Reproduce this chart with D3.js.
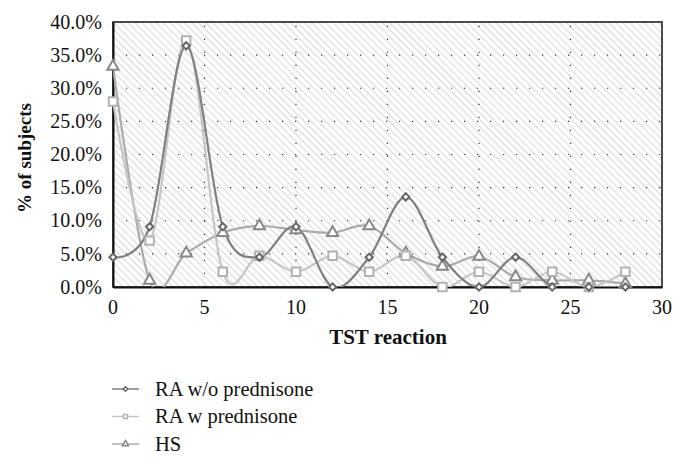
<!DOCTYPE html>
<html>
<head>
<meta charset="utf-8">
<script src="https://cdn.jsdelivr.net/npm/d3@7"></script>
</head>
<body style="margin:0">
<script>
var tst = [0, 2, 4, 6, 8, 10, 12, 14, 16, 18, 20, 22, 24, 26, 28];
var raNoPred = [4.5, 9.1, 36.4, 9.1, 4.5, 9.1, 0, 4.5, 13.6, 4.5, 0, 4.5, 0, 0, 0];
var raPred = [28.0, 7.0, 37.2, 2.3, 4.7, 2.3, 4.7, 2.3, 4.7, 0, 2.3, 0, 2.3, 0, 2.3];
var hs = [33.3, 1.0, 5.1, 8.2, 9.2, 8.6, 8.2, 9.2, 5.1, 3.1, 4.6, 1.5, 1.0, 1.0, 0.5];
var seriesNames = ["RA w/o prednisone", "RA w prednisone", "HS"];
var xTicks = [0, 5, 10, 15, 20, 25, 30];
var yTicks = [0, 5, 10, 15, 20, 25, 30, 35, 40];

var FONT = 'Liberation Serif';
var width = 684, height = 464;
var m = {left: 113, right: 22, top: 22, bottom: 177};

var svg = d3.select('body').append('svg')
    .attr('width', width)
    .attr('height', height);

var x = d3.scaleLinear().domain([0, 30]).range([m.left, width - m.right]);
var y = d3.scaleLinear().domain([0, 40]).range([height - m.bottom, m.top]);

var defs = svg.append('defs');
var pat = defs.append('pattern')
    .attr('id', 'hatch')
    .attr('patternUnits', 'userSpaceOnUse')
    .attr('width', 5).attr('height', 5)
    .attr('patternTransform', 'rotate(45)');
pat.append('rect').attr('width', 5).attr('height', 5).attr('fill', '#fff');
pat.append('line')
    .attr('x1', 0).attr('y1', 0).attr('x2', 5).attr('y2', 0)
    .attr('stroke', '#dcdcdc').attr('stroke-width', 2.4);

defs.append('clipPath').attr('id', 'clip')
  .append('rect')
    .attr('x', x(0)).attr('y', y(40))
    .attr('width', x(30) - x(0)).attr('height', y(0) - y(40));

// plot background
svg.append('rect')
    .attr('x', x(0)).attr('y', y(40))
    .attr('width', x(30) - x(0)).attr('height', y(0) - y(40))
    .attr('fill', 'url(#hatch)');

// dotted gridlines
var grid = svg.append('g');
grid.selectAll('line.h')
    .data(yTicks.filter(function(d) { return d > 0 && d < 40; }))
    .enter().append('line')
    .attr('class', 'h')
    .attr('x1', x(0)).attr('x2', x(30))
    .attr('y1', function(d) { return y(d); })
    .attr('y2', function(d) { return y(d); })
    .attr('stroke', '#333').attr('stroke-width', 1.2)
    .attr('stroke-dasharray', '1.2,11.8');
grid.selectAll('line.v')
    .data(xTicks.filter(function(d) { return d > 0 && d < 30; }))
    .enter().append('line')
    .attr('class', 'v')
    .attr('y1', y(0)).attr('y2', y(40))
    .attr('x1', function(d) { return x(d); })
    .attr('x2', function(d) { return x(d); })
    .attr('stroke', '#333').attr('stroke-width', 1.2)
    .attr('stroke-dasharray', '1.2,11.8');

// frame
svg.append('rect')
    .attr('x', x(0)).attr('y', y(40))
    .attr('width', x(30) - x(0)).attr('height', y(0) - y(40))
    .attr('fill', 'none').attr('stroke', '#222').attr('stroke-width', 1.6);

// axes lines from d3, labels as plain texts placed by the scales
var yAxis = svg.append('g')
    .attr('transform', 'translate(' + x(0) + ',0)')
    .call(d3.axisLeft(y).tickValues(yTicks).tickSize(0).tickFormat(''));
var xAxis = svg.append('g')
    .attr('transform', 'translate(0,' + y(0) + ')')
    .call(d3.axisBottom(x).tickValues(xTicks).tickSize(0).tickFormat(''));
[xAxis, yAxis].forEach(function(a) {
  a.select('.domain').attr('stroke', '#111').attr('stroke-width', 2);
});

svg.append('g').selectAll('text')
    .data(yTicks)
    .enter().append('text')
    .attr('x', x(0) - 11)
    .attr('y', function(d) { return y(d) + 6.7; })
    .attr('text-anchor', 'end')
    .style('font-family', FONT)
    .attr('font-size', 20)
    .attr('fill', '#111')
    .text(function(d) { return d.toFixed(1) + '%'; });
svg.append('g').selectAll('text')
    .data(xTicks)
    .enter().append('text')
    .attr('x', function(d) { return x(d); })
    .attr('y', y(0) + 27)
    .attr('text-anchor', 'middle')
    .style('font-family', FONT)
    .attr('font-size', 20)
    .attr('fill', '#111')
    .text(function(d) { return d; });

svg.append('text')
    .attr('x', 388).attr('y', 344)
    .attr('text-anchor', 'middle')
    .style('font-family', FONT)
    .attr('font-size', 21).attr('font-weight', 'bold').attr('fill', '#111')
    .text('TST reaction');
svg.append('text')
    .attr('transform', 'translate(31,158) rotate(-90)')
    .attr('text-anchor', 'middle')
    .style('font-family', FONT)
    .attr('font-size', 19).attr('font-weight', 'bold').attr('fill', '#111')
    .text('% of subjects');

// diamond drawn as a rotated square so it is as wide as tall
var diamond = {
  draw: function(ctx, size) {
    var r = Math.sqrt(size) / 2 * 1.15;
    ctx.moveTo(0, -r); ctx.lineTo(r, 0); ctx.lineTo(0, r); ctx.lineTo(-r, 0); ctx.closePath();
  }
};

var styles = [
  {vals: raNoPred, line: '#808080', mark: '#666', shape: diamond, size: 40},
  {vals: raPred, line: '#c6c6c6', mark: '#b2b2b2', shape: d3.symbolSquare, size: 72},
  {vals: hs, line: '#ababab', mark: '#888', shape: d3.symbolTriangle, size: 55}
];

var line = d3.line()
    .x(function(d) { return x(d[0]); })
    .y(function(d) { return y(d[1]); })
    .curve(d3.curveCardinal.tension(0));

var plot = svg.append('g').attr('clip-path', 'url(#clip)');
var order = [2, 1, 0];
order.forEach(function(i) {
  var s = styles[i];
  var pts = tst.map(function(t, j) { return [t, s.vals[j]]; });
  plot.append('path')
      .datum(pts)
      .attr('d', line)
      .attr('fill', 'none')
      .attr('stroke', s.line)
      .attr('stroke-width', 2.2);
});
order.forEach(function(i) {
  var s = styles[i];
  var pts = tst.map(function(t, j) { return [t, s.vals[j]]; });
  svg.append('g').selectAll('path')
      .data(pts)
      .enter().append('path')
      .attr('transform', function(d) { return 'translate(' + x(d[0]) + ',' + y(d[1]) + ')'; })
      .attr('d', d3.symbol().type(s.shape).size(s.size))
      .attr('fill', '#fff')
      .attr('stroke', s.mark)
      .attr('stroke-width', 2);
});

// legend
var legend = svg.append('g').attr('transform', 'translate(112,389)');
var items = legend.selectAll('g')
    .data(seriesNames)
    .enter().append('g')
    .attr('transform', function(d, i) { return 'translate(0,' + (i * 27.5) + ')'; });
items.append('line')
    .attr('x1', 0).attr('x2', 27)
    .attr('stroke', function(d, i) { return styles[i].line; })
    .attr('stroke-width', 1.5);
items.append('path')
    .attr('transform', 'translate(13.5,0)')
    .attr('d', function(d, i) { return d3.symbol().type(styles[i].shape).size(16)(); })
    .attr('fill', '#fff')
    .attr('stroke', function(d, i) { return styles[i].mark; })
    .attr('stroke-width', 1.5);
items.append('text')
    .attr('x', 43).attr('y', 6.5)
    .style('font-family', FONT)
    .attr('font-size', 20.5)
    .attr('fill', '#111')
    .text(function(d) { return d; });
</script>
</body>
</html>
